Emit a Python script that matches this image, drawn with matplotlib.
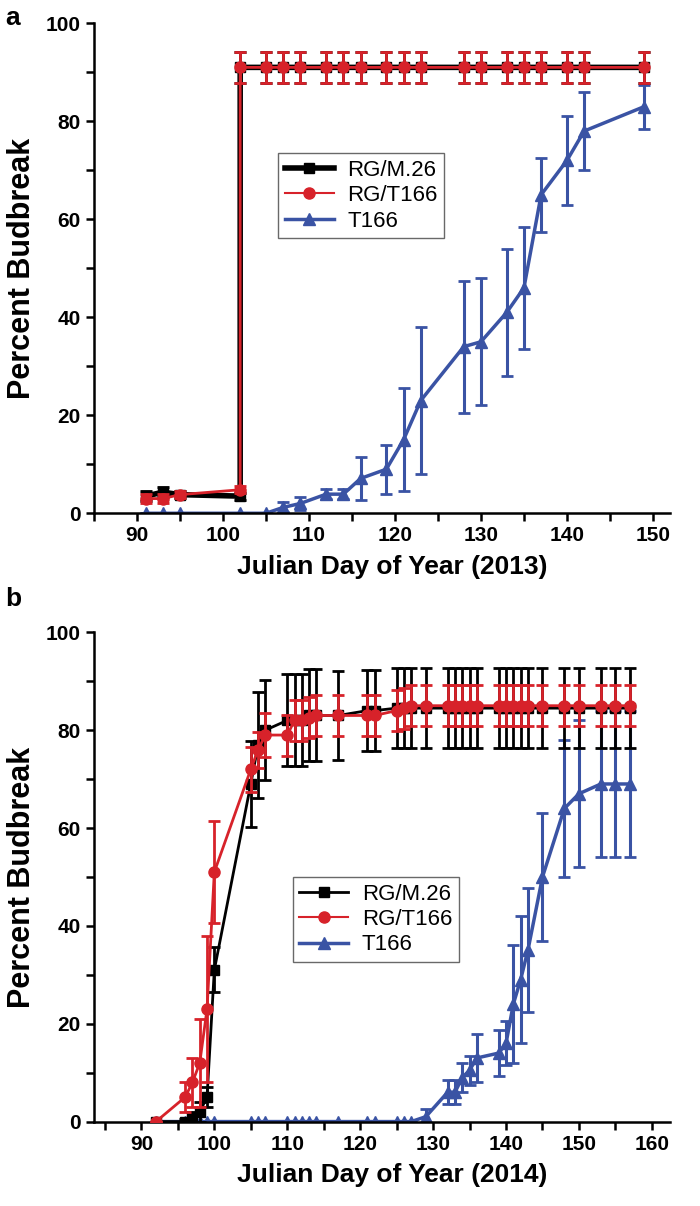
import numpy as np
import matplotlib
matplotlib.use("Agg")
import matplotlib.pyplot as plt
from matplotlib.lines import Line2D
from matplotlib.ticker import MultipleLocator

plt.rcParams.update({
    "font.family": ["Liberation Sans", "DejaVu Sans"],
    "axes.linewidth": 1.8,
})

# ── panel a (2013) ──────────────────────────────────────────────
days_a_rg = [91, 93, 95, 102, 102, 105, 107, 109, 112, 114, 116, 119, 121, 123,
             128, 130, 133, 135, 137, 140, 142, 149]
m26_a = [3.5, 4.3, 3.8, 3.5] + [91] * 18
m26_a_err = [1, 1, 0.7, 0.7] + [3.2] * 18
rgt_a = [3, 3, 3.8, 4.8] + [91] * 18
rgt_a_err = [1, 1, 0.7, 0.7] + [3.2] * 18

days_a_t = [91, 93, 95, 102, 105, 107, 109, 112, 114, 116, 119, 121, 123,
            128, 130, 133, 135, 137, 140, 142, 149]
t166_a = [0, 0, 0, 0, 0, 1.2, 2, 3.9, 3.9, 7.1, 9, 15, 23, 34, 35, 41, 46, 65, 72, 78, 83]
t166_a_err = [0, 0, 0, 0, 0, 1, 1.4, 1, 1, 4.4, 5, 10.5, 15, 13.5, 13, 13, 12.5, 7.5, 9, 8, 4.5]

# ── panel b (2014) ──────────────────────────────────────────────
days_b = [92, 96, 97, 98, 99, 100, 105, 106, 107, 110, 111, 112, 113, 114, 117,
          121, 122, 125, 126, 127, 129, 132, 133, 134, 135, 136, 139, 140, 141,
          142, 143, 145, 148, 150, 153, 155, 157]
m26_b = [0, 0, 1, 2, 5, 31, 69, 77, 80, 82, 82, 82, 83, 83, 83,
         84, 84, 84.5, 84.5, 84.5, 84.5, 84.5, 84.5, 84.5, 84.5, 84.5, 84.5, 84.5, 84.5,
         84.5, 84.5, 84.5, 84.5, 84.5, 84.5, 84.5, 84.5]
m26_b_err = [0, 0.5, 1, 2, 2, 4.6, 8.7, 10.9, 10.2, 9.4, 9.4, 9.4, 9.4, 9.4, 9,
             8.2, 8.2, 8.2, 8.2, 8.2, 8.2, 8.2, 8.2, 8.2, 8.2, 8.2, 8.2, 8.2, 8.2,
             8.2, 8.2, 8.2, 8.2, 8.2, 8.2, 8.2, 8.2]
rgt_b = [0, 5, 8, 12, 23, 51, 72, 76, 79, 79, 82, 82, 82.5, 83, 83,
         83, 83, 84, 84.5, 85, 85, 85, 85, 85, 85, 85, 85, 85, 85,
         85, 85, 85, 85, 85, 85, 85, 85]
rgt_b_err = [0, 3, 5, 9, 15, 10.5, 4.6, 3.7, 4.5, 4.2, 4.2, 4.2, 4.2, 4.2, 4.2,
             4.2, 4.2, 4.2, 4.2, 4.2, 4.2, 4.2, 4.2, 4.2, 4.2, 4.2, 4.2, 4.2, 4.2,
             4.2, 4.2, 4.2, 4.2, 4.2, 4.2, 4.2, 4.2]
t166_b = [0, 0, 0, 0, 0, 0, 0, 0, 0, 0, 0, 0, 0, 0, 0,
          0, 0, 0, 0, 0, 1, 6, 6, 9, 10.5, 13, 14, 16, 24,
          29, 35, 50, 64, 67, 69, 69, 69]
t166_b_err = [0] * 20 + [1.5, 2.5, 2.5, 3, 3, 5, 4.7, 4.5, 12,
                         13, 12.7, 13, 14, 15, 15, 15, 15]

labels = ["RG/M.26", "RG/T166", "T166"]

BLACK = "#000000"
RED = "#d7222a"
BLUE = "#3a53a4"

fig = plt.figure(figsize=(7.0, 12.06), dpi=100)
ax_a = fig.add_axes([0.1343, 0.5744, 0.823, 0.4063])
ax_b = fig.add_axes([0.1343, 0.0700, 0.823, 0.4057])


def draw(ax, days_rg, m26, m26_err, rgt, rgt_err, days_t, t166, t166_err, lw_black):
    ax.errorbar(days_rg, m26, yerr=m26_err, color=BLACK, lw=lw_black, marker="s", ms=6.5,
                elinewidth=2, capsize=4, capthick=2, zorder=3)
    ax.errorbar(days_rg, rgt, yerr=rgt_err, color=RED, lw=2, marker="o", ms=8,
                elinewidth=2, capsize=4, capthick=2, zorder=4)
    ax.errorbar(days_t, t166, yerr=t166_err, color=BLUE, lw=2.5, marker="^", ms=8,
                elinewidth=2.2, capsize=4, capthick=2, zorder=2)
    for s in ("top", "right"):
        ax.spines[s].set_visible(False)
    ax.set_ylim(0, 100)
    ax.yaxis.set_major_locator(MultipleLocator(20))
    ax.yaxis.set_minor_locator(MultipleLocator(10))
    ax.xaxis.set_major_locator(MultipleLocator(10))
    ax.xaxis.set_minor_locator(MultipleLocator(5))
    ax.tick_params(which="both", direction="out", width=1.8, length=6, labelsize=15)
    for lab in ax.get_xticklabels() + ax.get_yticklabels():
        lab.set_fontweight("bold")
    ax.set_ylabel("Percent Budbreak", fontsize=22, fontweight="bold", labelpad=6)

    handles = [
        Line2D([], [], color=BLACK, lw=lw_black, marker="s", ms=6.5),
        Line2D([], [], color=RED, lw=1.5, marker="o", ms=8),
        Line2D([], [], color=BLUE, lw=2.5, marker="^", ms=8),
    ]
    return handles


def add_legend(ax, handles, anchor):
    leg = ax.legend(handles, labels, loc="upper left", bbox_to_anchor=anchor, fontsize=16,
                    frameon=True, fancybox=False, edgecolor="#444444", borderaxespad=0,
                    handlelength=2.2, borderpad=0.3, labelspacing=0.2, handletextpad=0.6)
    leg.get_frame().set_linewidth(1.0)


h_a = draw(ax_a, days_a_rg, m26_a, m26_a_err, rgt_a, rgt_a_err,
           days_a_t, t166_a, t166_a_err, lw_black=4)
ax_a.set_xlim(85, 152)
ax_a.set_xlabel("Julian Day of Year (2013)", fontsize=19, fontweight="bold")
ax_a.xaxis.set_label_coords(0.517, -0.085)
add_legend(ax_a, h_a, (0.32, 0.735))

h_b = draw(ax_b, days_b, m26_b, m26_b_err, rgt_b, rgt_b_err,
           days_b, t166_b, t166_b_err, lw_black=2)
ax_b.set_xlim(83.5, 162.5)
ax_b.set_xlabel("Julian Day of Year (2014)", fontsize=19, fontweight="bold")
ax_b.xaxis.set_label_coords(0.517, -0.085)
add_legend(ax_b, h_b, (0.345, 0.50))

fig.text(0.008, 0.995, "a", fontsize=19, fontweight="bold", va="top")
fig.text(0.008, 0.513, "b", fontsize=19, fontweight="bold", va="top")

fig.savefig("out.png", dpi=100)
